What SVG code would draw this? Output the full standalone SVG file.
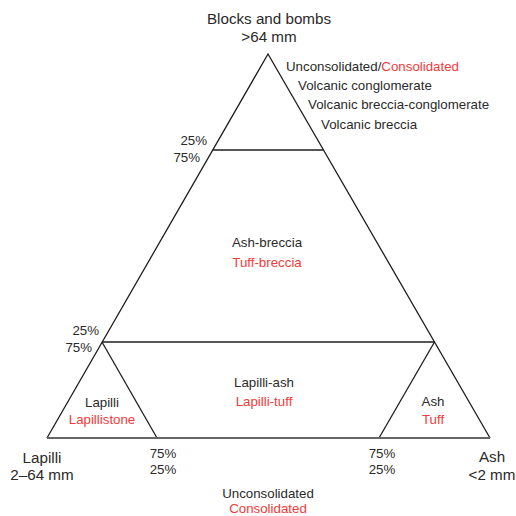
<svg xmlns="http://www.w3.org/2000/svg" width="516" height="516" viewBox="0 0 516 516">
<style>
text{font-family:"Liberation Sans",Arial,sans-serif;fill:#2a2a2a}
.s{font-size:13.3px}
.l{font-size:15.2px}
.r{fill:#f23a3a}
.m{text-anchor:middle}
.e{text-anchor:end}
.ln{stroke:#1e1e1e;stroke-width:1.3;fill:none}
.base{stroke:#666;stroke-width:2;fill:none}
</style>
<rect width="516" height="516" fill="#fff"/>
<g id="connectors">
<polyline class="ln" points="47,438 268,54 490,438"/>
<line class="ln" x1="212.8" y1="150" x2="323.5" y2="150"/>
<line class="ln" x1="102" y1="342" x2="434.5" y2="342"/>
<polyline class="ln" points="157,438 102,342"/>
<polyline class="ln" points="379,438 434.5,342"/>
<line class="base" x1="47" y1="438" x2="490" y2="438"/>
</g>
<g id="apex-label">
<text class="l m" x="269" y="24">Blocks and bombs</text>
<text class="l m" x="269" y="42">&gt;64 mm</text>
</g>
<g id="legend-top">
<text class="s" x="286" y="71">Unconsolidated/<tspan class="r">Consolidated</tspan></text>
<text class="s" x="298" y="90">Volcanic conglomerate</text>
<text class="s" x="308" y="109">Volcanic breccia-conglomerate</text>
<text class="s" x="321" y="129">Volcanic breccia</text>
</g>
<g id="pct-upper">
<text class="s e" x="207" y="145">25%</text>
<text class="s e" x="200" y="162">75%</text>
</g>
<g id="ash-breccia">
<text class="s m" x="267" y="247">Ash-breccia</text>
<text class="s m r" x="267" y="267">Tuff-breccia</text>
</g>
<g id="pct-lower">
<text class="s e" x="99" y="335">25%</text>
<text class="s e" x="92" y="352">75%</text>
</g>
<g id="lapilli-region">
<text class="s m" x="102" y="407">Lapilli</text>
<text class="s m r" x="102" y="424">Lapillistone</text>
</g>
<g id="lapilli-ash">
<text class="s m" x="264" y="387">Lapilli-ash</text>
<text class="s m r" x="264" y="406">Lapilli-tuff</text>
</g>
<g id="ash-region">
<text class="s m" x="433" y="406">Ash</text>
<text class="s m r" x="433" y="424">Tuff</text>
</g>
<g id="lapilli-corner">
<text class="l m" x="42" y="463">Lapilli</text>
<text class="l m" x="42" y="480">2–64 mm</text>
</g>
<g id="ash-corner">
<text class="l m" x="492" y="462">Ash</text>
<text class="l m" x="492" y="480">&lt;2 mm</text>
</g>
<g id="pct-bottom-left">
<text class="s m" x="163" y="458">75%</text>
<text class="s m" x="163" y="474">25%</text>
</g>
<g id="pct-bottom-right">
<text class="s m" x="382" y="458">75%</text>
<text class="s m" x="382" y="474">25%</text>
</g>
<g id="legend-bottom">
<text class="s m" x="268" y="498">Unconsolidated</text>
<text class="s m r" x="268" y="513">Consolidated</text>
</g>
</svg>
